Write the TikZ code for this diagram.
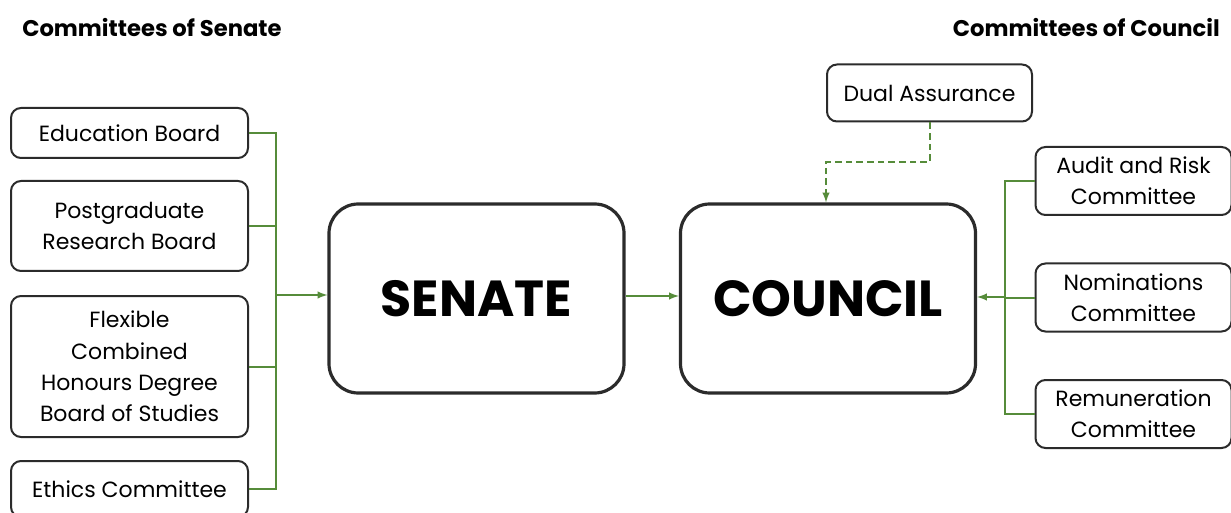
\documentclass[tikz,border=0pt]{standalone}
\usepackage{fontspec}
\setmainfont{Poppins}
\usepackage{tikz}
\tikzset{>=latex}
\definecolor{branch}{HTML}{568C3A}
\definecolor{boxline}{HTML}{2B2B2B}
\tikzset{
  cbox/.style={draw=boxline, line width=1.5pt, rounded corners=7.5pt, align=center,
    font=\fontsize{16.5}{23.5}\selectfont, minimum width=177.75pt, inner sep=0pt},
  rbox/.style={cbox, minimum width=147pt, minimum height=51pt},
  bigbox/.style={draw=boxline, line width=2.4pt, rounded corners=22pt,
    minimum width=221.25pt, minimum height=141.75pt,
    font=\fontsize{38}{42}\selectfont\bfseries},
  link/.style={draw=branch, line width=1.5pt},
  title/.style={font=\fontsize{17}{20}\selectfont\bfseries, inner sep=0pt}
}

\begin{document}
\begin{tikzpicture}[x=0.75pt, y=-0.75pt]
  \useasboundingbox (0,0) rectangle (1231,513);
  \clip (0,0) rectangle (1231,513);
  % headings
  \node[title, anchor=west] (tsen) at (22,28) {Committees of Senate};
  \node[title, anchor=east] (tcou) at (1220,28) {Committees of Council};
  % senate side
  \node[cbox, minimum height=37.5pt] (edu) at (129.5,133) {Education Board};
  \node[cbox, minimum height=67.5pt] (pgr) at (129.5,226) {Postgraduate\\Research Board};
  \node[cbox, minimum height=105.75pt] (fchd) at (129.5,366.5) {Flexible\\Combined\\Honours Degree\\Board of Studies};
  \node[cbox, minimum height=42pt] (ethics) at (129.5,489) {Ethics Committee};
  \node[bigbox] (senate) at (476.5,298.5) {SENATE};
  \coordinate (sbus) at (276,295);
  \draw[link] (edu.east) -| (sbus);
  \draw[link] (ethics.east) -| (sbus);
  \draw[link] (pgr.east) -- (pgr.east -| sbus);
  \draw[link] (fchd.east) -- (fchd.east -| sbus);
  \draw[link, ->] (sbus) -- (sbus -| senate.west);
  % council side
  \node[bigbox] (council) at (828,298.5) {COUNCIL};
  \draw[link, ->] (senate.east |- 0,296) -- (council.west |- 0,296);
  \node[cbox, minimum width=153.75pt, minimum height=42.75pt] (dual) at (929.5,93) {Dual Assurance};
  \draw[link, dashed, dash pattern=on 5pt off 3pt, ->] (dual.south -| 930,0) -- (930,162) -- (826,162) -- (826,0 |- council.north);
  \node[rbox] (audit) at (1133.5,181) {Audit and Risk\\Committee};
  \node[rbox] (nom) at (1133.5,297.5) {Nominations\\Committee};
  \node[rbox] (remun) at (1133.5,414) {Remuneration\\Committee};
  \coordinate (cbus) at (1005,297);
  \draw[link] (audit.west) -| (cbus);
  \draw[link] (remun.west) -| (cbus);
  \draw[link] (nom.west) -- (nom.west -| cbus);
  \draw[link, ->] (cbus) -- (cbus -| council.east);
\end{tikzpicture}
\end{document}
